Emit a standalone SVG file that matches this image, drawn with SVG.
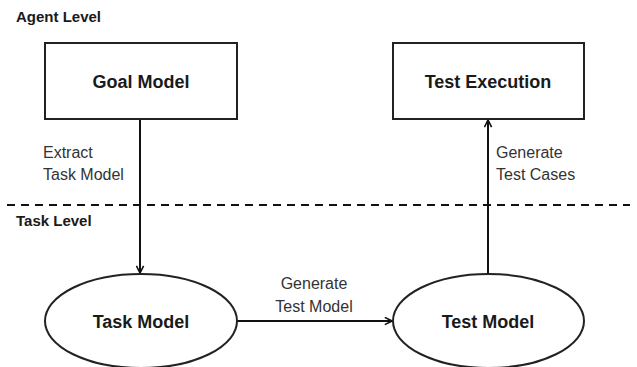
<svg xmlns="http://www.w3.org/2000/svg" width="637" height="367" viewBox="0 0 637 367">
<style>
.box{fill:#fff;stroke:#222;stroke-width:2}
.title{font-family:"Liberation Sans",Arial,sans-serif;font-weight:bold;font-size:18px;fill:#1a1a1a;text-anchor:middle}
.lvl{font-family:"Liberation Sans",Arial,sans-serif;font-weight:bold;font-size:15px;fill:#1a1a1a}
.lbl{font-family:"Liberation Sans",Arial,sans-serif;font-size:16px;fill:#333}
.edge{stroke:#111;stroke-width:2;fill:none}
</style>
<defs>
<marker id="arr" viewBox="0 0 10 10" refX="9" refY="5" markerWidth="9" markerHeight="9" markerUnits="userSpaceOnUse" orient="auto">
<path d="M1,1 L9,5 L1,9" fill="none" stroke="#111" stroke-width="1.8"/>
</marker>
</defs>
<rect width="637" height="367" fill="#fff"/>
<text class="lvl" x="16" y="22">Agent Level</text>
<text class="lvl" x="16" y="226">Task Level</text>
<line x1="7" y1="205" x2="630" y2="205" stroke="#111" stroke-width="2" stroke-dasharray="8,6"/>
<g id="connectors">
<line class="edge" x1="140" y1="119" x2="140" y2="273" marker-end="url(#arr)"/>
<line class="edge" x1="237" y1="321" x2="392" y2="321" marker-end="url(#arr)"/>
<line class="edge" x1="488" y1="274" x2="488" y2="120" marker-end="url(#arr)"/>
<text class="lbl" x="43" y="158">Extract</text>
<text class="lbl" x="43" y="180">Task Model</text>
<text class="lbl" x="314" y="289" text-anchor="middle">Generate</text>
<text class="lbl" x="314" y="312" text-anchor="middle">Test Model</text>
<text class="lbl" x="496" y="158">Generate</text>
<text class="lbl" x="496" y="180">Test Cases</text>
</g>
<g id="goal-model">
<rect class="box" x="45" y="43" width="192" height="76"/>
<text class="title" x="141" y="88">Goal Model</text>
</g>
<g id="test-execution">
<rect class="box" x="393" y="43" width="191" height="76"/>
<text class="title" x="488" y="88">Test Execution</text>
</g>
<g id="task-model">
<ellipse class="box" cx="141" cy="321" rx="96" ry="47"/>
<text class="title" x="141" y="328">Task Model</text>
</g>
<g id="test-model">
<ellipse class="box" cx="488.5" cy="321" rx="95.5" ry="47"/>
<text class="title" x="488" y="328">Test Model</text>
</g>
</svg>
